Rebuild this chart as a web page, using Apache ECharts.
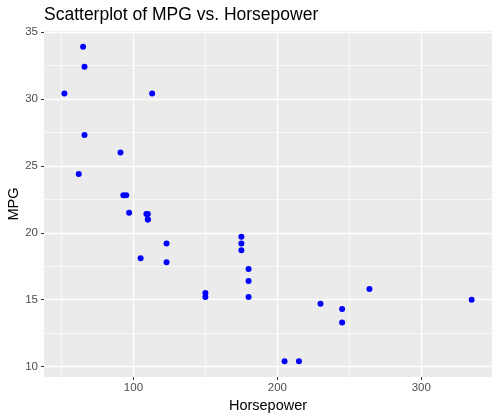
<!DOCTYPE html>
<html>
<head>
<meta charset="utf-8">
<script src="https://cdn.jsdelivr.net/npm/echarts@6/dist/echarts.min.js"></script>
<style>html,body{margin:0;padding:0;background:#fff}#c{width:499px;height:419px}</style>
</head>
<body>
<div id="c"></div>
<script>
// mtcars: horsepower vs mpg
const horsepower = [110,110,93,110,175,105,245,62,95,123,123,180,180,180,205,215,230,66,52,65,97,150,150,245,175,66,91,113,264,175,335,109];
const mpg = [21.0,21.0,22.8,21.4,18.7,18.1,14.3,24.4,22.8,19.2,17.8,16.4,17.3,15.2,10.4,10.4,14.7,32.4,30.4,33.9,21.5,15.5,15.2,13.3,19.2,27.3,26.0,30.4,15.8,19.7,15.0,21.4];
const xTicks = [100,200,300];
const xMinor = [50,150,250];
const yTicks = [10,15,20,25,30,35];
const yMinor = [12.5,17.5,22.5,27.5,32.5];

const points = horsepower.map((h,i)=>[h,mpg[i]]);
const xMin = 52 - (335-52)*0.05, xMax = 335 + (335-52)*0.05;
const yMin = 10.4 - (33.9-10.4)*0.05, yMax = 33.9 + (33.9-10.4)*0.05;

const gridLines = [];
xMinor.forEach(v=>gridLines.push({xAxis:v, lineStyle:{color:'#fff', width:0.6, type:'solid'}}));
yMinor.forEach(v=>gridLines.push({yAxis:v, lineStyle:{color:'#fff', width:0.6, type:'solid'}}));
xTicks.forEach(v=>gridLines.push({xAxis:v, lineStyle:{color:'#fff', width:1.3, type:'solid'}}));
yTicks.forEach(v=>gridLines.push({yAxis:v, lineStyle:{color:'#fff', width:1.3, type:'solid'}}));

const font = 'Liberation Sans, Arial, Helvetica, sans-serif';
const chart = echarts.init(document.getElementById('c'), null, {renderer:'canvas'});
chart.setOption({
  animation:false,
  title:{text:'Scatterplot of MPG vs. Horsepower', left:39, top:1,
    textStyle:{fontFamily:font, fontSize:17.5, fontWeight:'normal', color:'#000'}},
  grid:{left:44, right:7, top:31, bottom:42, show:true, backgroundColor:'#EBEBEB', borderWidth:0, containLabel:false, outerBoundsMode:'none'},
  xAxis:{type:'value', min:xMin, max:xMax,
    name:'Horsepower', nameLocation:'middle', nameGap:19,
    nameTextStyle:{fontFamily:font, fontSize:14.5, color:'#000'},
    axisLine:{show:false},
    axisTick:{show:true, length:3, customValues:xTicks, lineStyle:{color:'#333', width:1}},
    axisLabel:{customValues:xTicks, margin:5, fontFamily:font, fontSize:11.5, color:'#4D4D4D'},
    splitLine:{show:false}},
  yAxis:{type:'value', min:yMin, max:yMax,
    name:'MPG', nameLocation:'middle', nameGap:23, nameRotate:90, nameMoveOverlap:false,
    nameTextStyle:{fontFamily:font, fontSize:14.5, color:'#000'},
    axisLine:{show:false},
    axisTick:{show:true, length:3, customValues:yTicks, lineStyle:{color:'#333', width:1}},
    axisLabel:{customValues:yTicks, margin:6, fontFamily:font, fontSize:11.5, color:'#4D4D4D'},
    splitLine:{show:false}},
  series:[{
    type:'scatter', data:points, symbolSize:6,
    itemStyle:{color:'#0000FF', opacity:1},
    markLine:{silent:true, symbol:'none', label:{show:false}, animation:false, z:0, data:gridLines},
    z:3
  }]
});
</script>
</body>
</html>
